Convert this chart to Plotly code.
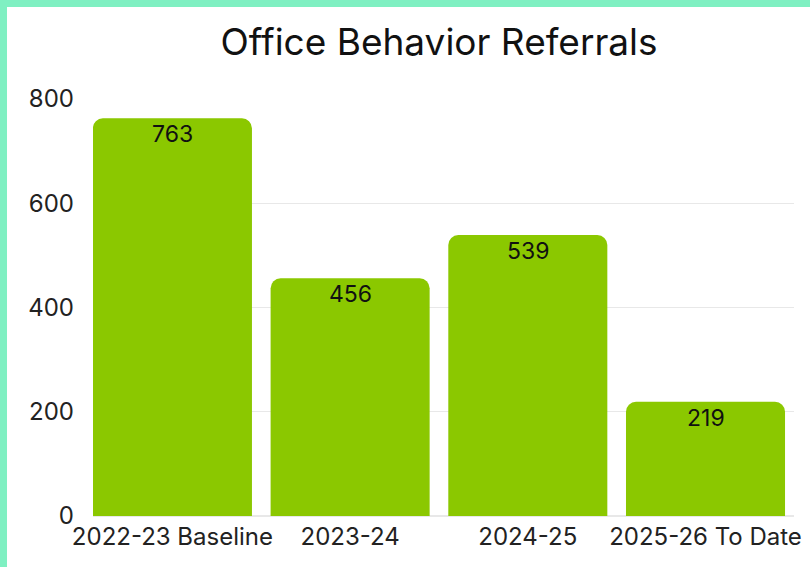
import plotly.graph_objects as go

categories = ["2022-23 Baseline", "2023-24", "2024-25", "2025-26 To Date"]
values = [763, 456, 539, 219]
y_ticks = [0, 200, 400, 600, 800]

FONT = "Inter"
L, R, T, B = 93, 16, 99, 51
W, H = 810, 567
pw = W - L - R
ph = H - T - B

fig = go.Figure(go.Bar(
    x=list(range(len(categories))),
    y=values,
    marker=dict(color="#8bc800", cornerradius=10, line=dict(width=0)),
    width=0.895,
    hoverinfo="skip",
))

annotations = [
    dict(x=i, y=v, xref="x", yref="y", text=str(v), showarrow=False,
         yanchor="middle", xanchor="center", yshift=-16,
         font=dict(family=FONT, size=23, color="#111111"))
    for i, v in enumerate(values)
]

fig.update_layout(
    width=W, height=H,
    margin=dict(l=L, r=R, t=T, b=B, pad=0, autoexpand=False),
    paper_bgcolor="white",
    plot_bgcolor="white",
    showlegend=False,
    font=dict(family=FONT, color="#222222"),
    title=dict(text="Office Behavior Referrals", x=439 / W, xanchor="center",
               y=1 - 42 / H, yanchor="middle", xref="container", yref="container",
               font=dict(family=FONT, size=37, color="#111111")),
    xaxis=dict(
        range=[-0.447, 3.498],
        tickmode="array",
        tickvals=list(range(len(categories))),
        ticktext=categories,
        showgrid=False, zeroline=False, showline=False,
        tickfont=dict(family=FONT, size=24, color="#222222"),
        ticks="", ticklabelstandoff=4, automargin=False,
    ),
    yaxis=dict(
        range=[0, 800],
        tickmode="array",
        tickvals=y_ticks,
        ticktext=[str(t) for t in y_ticks],
        showgrid=True, gridcolor="#e8e8e8", gridwidth=1,
        zeroline=True, zerolinecolor="#e8e8e8", showline=False,
        tickfont=dict(family=FONT, size=24, color="#222222"),
        ticks="", ticklabelstandoff=18, automargin=False,
    ),
    annotations=annotations,
    shapes=[
        dict(type="rect", xref="paper", yref="paper",
             x0=(0 - L) / pw, x1=(W - L) / pw,
             y0=(H - B - 7) / ph, y1=(H - B) / ph,
             fillcolor="#7ff0c2", line=dict(width=0), layer="above"),
        dict(type="rect", xref="paper", yref="paper",
             x0=(0 - L) / pw, x1=(7 - L) / pw,
             y0=(H - B - H) / ph, y1=(H - B) / ph,
             fillcolor="#7ff0c2", line=dict(width=0), layer="above"),
    ],
)

fig.write_html("out.html")
